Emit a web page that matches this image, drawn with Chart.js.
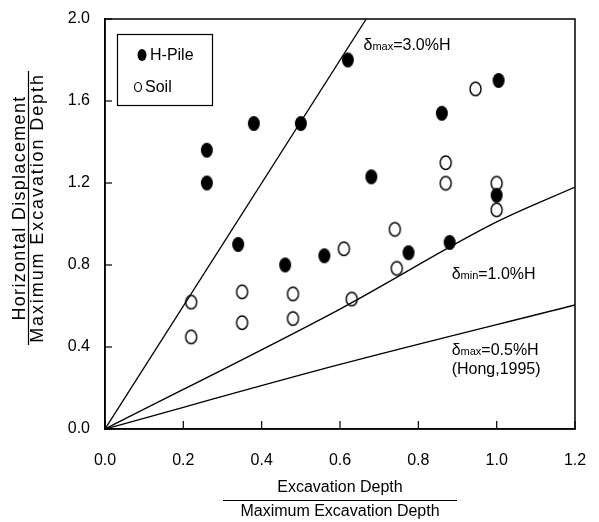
<!DOCTYPE html>
<html><head><meta charset="utf-8">
<script src="https://cdn.jsdelivr.net/npm/chart.js@4"></script>
<style>html,body{margin:0;padding:0;background:#fff}#wrap{width:599px;height:522px}</style>
</head><body><div id="wrap"><canvas id="c" width="599" height="522"></canvas></div>
<script>
// ---- data ----
const hPileX = [0.26, 0.26, 0.38, 0.50, 0.62, 0.34, 0.46, 0.56, 0.68, 0.775, 0.86, 0.88, 1.005, 1.00];
const hPileY = [1.36, 1.20, 1.49, 1.49, 1.80, 0.90, 0.80, 0.845, 1.23, 0.86, 1.54, 0.91, 1.70, 1.14];
const soilX = [0.22, 0.22, 0.35, 0.35, 0.48, 0.48, 0.61, 0.63, 0.74, 0.745, 0.87, 0.87, 0.946, 1.00, 1.00];
const soilY = [0.62, 0.45, 0.67, 0.52, 0.66, 0.54, 0.88, 0.635, 0.975, 0.785, 1.30, 1.20, 1.66, 1.20, 1.07];
const line3X = [0, 0.667];
const line3Y = [0, 2.0];
const line1X = [0, 0.6, 1.0, 1.2];
const line1Y = [0, 0.585, 1.01, 1.18];
const line05X = [0, 0.6, 1.2];
const line05Y = [0, 0.315, 0.605];
const xTickLabels = ['0.0', '0.2', '0.4', '0.6', '0.8', '1.0', '1.2'];
const yTickLabels = ['0.0', '0.4', '0.8', '1.2', '1.6', '2.0'];
const seriesNames = ['H-Pile', 'Soil'];
const xTitle = ['Excavation Depth', 'Maximum Excavation Depth'];
const yTitle = ['Horizontal Displacement', 'Maximum Excavation Depth'];
const annotations = [
  {x: 0.66, y: 1.88, sym: 'δ', sub: 'max', rest: '=3.0%H'},
  {x: 0.885, y: 0.76, sym: 'δ', sub: 'min', rest: '=1.0%H'},
  {x: 0.885, y: 0.39, sym: 'δ', sub: 'max', rest: '=0.5%H'},
  {x: 0.885, y: 0.30, sym: '', sub: '', rest: '(Hong,1995)'}
];

const FONT = "'Liberation Sans', Arial, sans-serif";
const zip = (xs, ys) => xs.map((x, i) => ({x, y: ys[i]}));

function ellipseImg(w, h, fill, lw) {
  const c = document.createElement('canvas');
  c.width = w + 4; c.height = h + 4;
  const g = c.getContext('2d');
  g.beginPath();
  g.ellipse((w + 4) / 2, (h + 4) / 2, w / 2, h / 2, 0, 0, Math.PI * 2);
  if (fill) { g.fillStyle = '#000'; g.fill(); }
  else { g.lineWidth = lw || 1.4; g.strokeStyle = '#000'; g.stroke(); }
  return c;
}
const filledPt = ellipseImg(12, 15, true);
const openPt = ellipseImg(11, 13.5, false, 1.4);

const lineDs = (xs, ys) => ({
  type: 'line', data: zip(xs, ys), borderColor: '#000', borderWidth: 1.3,
  pointRadius: 0, fill: false, cubicInterpolationMode: 'monotone', order: 5
});

const decor = {
  id: 'decor',
  beforeDatasetsDraw(chart) {
    const {ctx, chartArea: a, scales: {x, y}} = chart;
    ctx.save();
    ctx.strokeStyle = '#000';
    ctx.lineWidth = 1.5;
    ctx.strokeRect(a.left, a.top, a.right - a.left, a.bottom - a.top);
    ctx.lineWidth = 1.2;
    x.ticks.forEach(t => {
      const px = x.getPixelForValue(t.value);
      ctx.beginPath(); ctx.moveTo(px, a.bottom); ctx.lineTo(px, a.bottom - 8); ctx.stroke();
    });
    y.ticks.forEach(t => {
      const py = y.getPixelForValue(t.value);
      ctx.beginPath(); ctx.moveTo(a.left, py); ctx.lineTo(a.left + 7, py); ctx.stroke();
    });
    ctx.restore();
  },
  afterDraw(chart) {
    const {ctx, chartArea: a, scales: {x, y}} = chart;
    ctx.save();
    ctx.fillStyle = '#000';
    ctx.strokeStyle = '#000';
    annotations.forEach(an => {
      let px = x.getPixelForValue(an.x);
      const py = y.getPixelForValue(an.y);
      ctx.textBaseline = 'alphabetic';
      ctx.textAlign = 'left';
      const base = py + 6;
      if (an.sym) {
        ctx.font = '16px ' + FONT;
        ctx.fillText(an.sym, px, base); px += ctx.measureText(an.sym).width;
        ctx.font = '11px ' + FONT;
        ctx.fillText(an.sub, px, base); px += ctx.measureText(an.sub).width;
      }
      ctx.font = '16px ' + FONT;
      ctx.fillText(an.rest, px, base);
    });
    const xc = 340;
    ctx.font = '16px ' + FONT;
    ctx.textAlign = 'center';
    ctx.textBaseline = 'middle';
    ctx.fillText(xTitle[0], xc, 488);
    ctx.fillText(xTitle[1], xc, 512);
    ctx.lineWidth = 1.2;
    ctx.beginPath(); ctx.moveTo(xc - 117, 500.5); ctx.lineTo(xc + 117, 500.5); ctx.stroke();
    ctx.translate(0, 208);
    ctx.rotate(-Math.PI / 2);
    ctx.font = '18px ' + FONT;
    try { ctx.letterSpacing = '1.3px'; } catch (e) {}
    ctx.fillText(yTitle[0], 0, 20);
    try { ctx.letterSpacing = '1.9px'; } catch (e) {}
    ctx.fillText(yTitle[1], 0, 38);
    try { ctx.letterSpacing = '0px'; } catch (e) {}
    ctx.beginPath(); ctx.moveTo(-137, 28.5); ctx.lineTo(137, 28.5); ctx.stroke();
    ctx.setTransform(1, 0, 0, 1, 0, 0);
    ctx.lineWidth = 1.2;
    ctx.strokeRect(117.5, 34.5, 95, 71);
    ctx.font = '16px ' + FONT;
    ctx.textAlign = 'left';
    ctx.textBaseline = 'middle';
    ctx.beginPath(); ctx.ellipse(142, 55, 4.5, 6, 0, 0, Math.PI * 2); ctx.fill();
    ctx.fillText(chart.data.datasets[0].label, 150, 56);
    ctx.lineWidth = 1.2;
    ctx.beginPath(); ctx.ellipse(138, 87, 3.5, 4.5, 0, 0, Math.PI * 2); ctx.stroke();
    ctx.fillText(chart.data.datasets[1].label, 145, 88);
    ctx.restore();
  }
};

new Chart(document.getElementById('c'), {
  type: 'scatter',
  data: {
    datasets: [
      {label: seriesNames[0], data: zip(hPileX, hPileY), pointStyle: filledPt, pointRadius: 7, order: 1},
      {label: seriesNames[1], data: zip(soilX, soilY), pointStyle: openPt, pointRadius: 7, order: 2},
      lineDs(line3X, line3Y),
      lineDs(line1X, line1Y),
      lineDs(line05X, line05Y)
    ]
  },
  options: {
    responsive: false,
    animation: false,
    layout: {padding: {top: 19, right: 24, left: 0, bottom: 0}},
    plugins: {legend: {display: false}, tooltip: {enabled: false}},
    scales: {
      x: {
        type: 'linear', min: 0, max: 1.2,
        afterFit: s => { s.height = 93; s.paddingLeft = 0; s.paddingRight = 0; },
        border: {display: true, color: '#000', width: 1.5},
        grid: {display: true, drawOnChartArea: false, drawTicks: false, color: 'rgba(0,0,0,0)'},
        ticks: {stepSize: 0.2, padding: 22, maxRotation: 0, color: '#000', font: {family: FONT, size: 16},
          callback: (v, i) => xTickLabels[i] ?? ''}
      },
      y: {
        type: 'linear', min: 0, max: 2.0,
        afterFit: s => { s.width = 105; s.paddingTop = 0; s.paddingBottom = 0; },
        border: {display: true, color: '#000', width: 1.5},
        grid: {display: true, drawOnChartArea: false, drawTicks: false, color: 'rgba(0,0,0,0)'},
        ticks: {stepSize: 0.4, padding: 15, color: '#000', font: {family: FONT, size: 16},
          callback: (v, i) => yTickLabels[i] ?? ''}
      }
    }
  },
  plugins: [decor]
});
</script>
</body></html>
